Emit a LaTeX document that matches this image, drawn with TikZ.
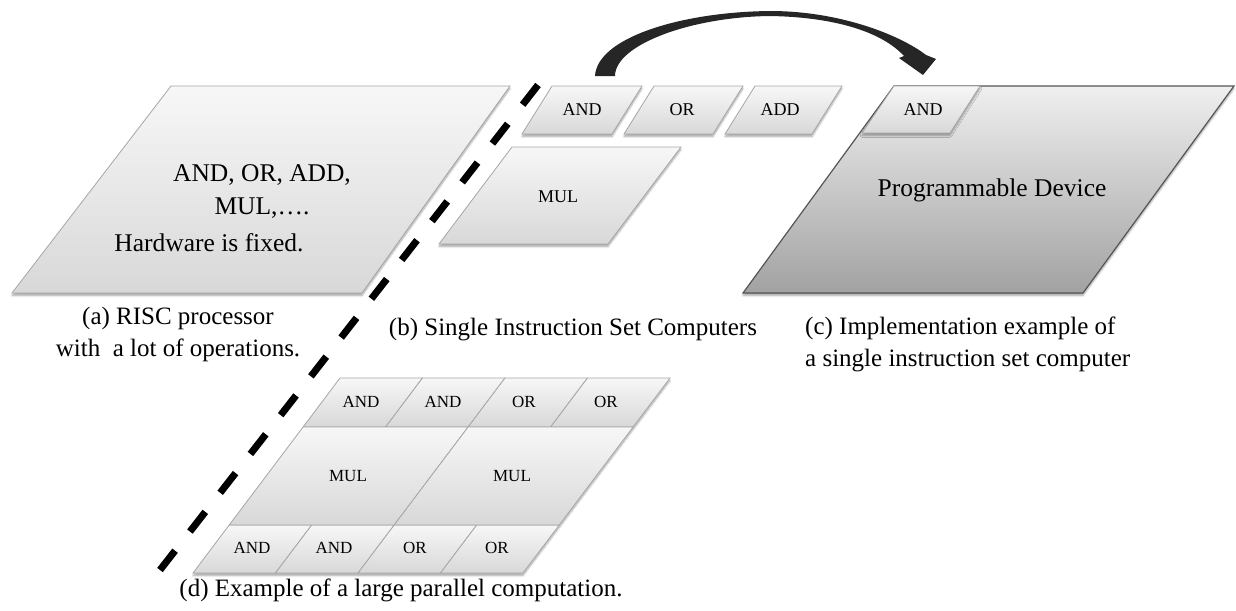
\documentclass[tikz,border=0pt]{standalone}
\usepackage{fontspec}
\setmainfont{Liberation Serif}
\usetikzlibrary{shadows.blur,calc}
\definecolor{boxtop}{HTML}{F7F7F7}
\definecolor{boxbot}{HTML}{D8D8D8}
\definecolor{boxline}{HTML}{A6A6A6}
\definecolor{devtop}{HTML}{EFEFEF}
\definecolor{devbot}{HTML}{A2A2A2}
\definecolor{devline}{HTML}{555555}
\definecolor{arrowc}{HTML}{262626}
\tikzset{
  shadowed/.style={blur shadow={shadow xshift=0pt, shadow yshift=-2.5pt, shadow opacity=35, shadow blur steps=6}},
  pbox/.style={draw=boxline, line width=0.8pt, top color=boxtop, bottom color=boxbot},
  devbox/.style={draw=devline, line width=1.2pt, top color=devtop, bottom color=devbot},
  bigtxt/.style={font=\fontsize{25.5}{30}\selectfont, inner sep=0pt},
  captxt/.style={font=\fontsize{25}{32}\selectfont, inner sep=0pt},
  smalltxt/.style={font=\fontsize{18}{20}\selectfont, inner sep=0pt},
  gridtxt/.style={font=\fontsize{17}{20}\selectfont, inner sep=0pt},
  sep/.style={line width=7pt, dash pattern=on 25pt off 24.2pt},
}
\begin{document}
\begin{tikzpicture}[x=1pt,y=-1pt]
\useasboundingbox (0,0) rectangle (1236,610);

% (a) RISC processor
\path[pbox, shadowed] (171,86) -- (510,86) -- (362,293) -- (12,293) -- cycle;
\node[bigtxt] (risc1) at (262,175) {AND, OR, ADD,};
\node[bigtxt] (risc2) at (262,208) {MUL,….};
\node[bigtxt] (risc3) at (209,243) {Hardware is fixed.};
\node[captxt, align=center] (capa) at (178,334) {(a) RISC processor\\with\ \ a lot of operations.};

% separator
\coordinate (dTop) at (538,85);
\coordinate (dBot) at (160,570);
\draw[sep] (dTop) -- (dBot);

% (b) single instruction set computers
\path[pbox, shadowed] (552,86) -- (642,86) -- (612,134) -- (522,134) -- cycle;
\path[pbox, shadowed] (654,86) -- (743,86) -- (713,134) -- (624,134) -- cycle;
\path[pbox, shadowed] (755,86) -- (842,86) -- (812,134) -- (725,134) -- cycle;
\path[pbox, shadowed] (512,147) -- (681,147) -- (608,244) -- (439,244) -- cycle;
\node[smalltxt] (andb) at (582,110) {AND};
\node[smalltxt] (orb) at (682,110) {OR};
\node[smalltxt] (addb) at (780,110) {ADD};
\node[smalltxt] (mulb) at (558,197) {MUL};
\node[captxt] (capb) at (573,330) {(b) Single Instruction Set Computers};

% (c) programmable device
\path[devbox, shadowed] (894,86) -- (1234,86) -- (1083,293) -- (743,293) -- cycle;
\path[pbox, shadowed] (894,86) -- (980,86) -- (950,133) -- (862,133) -- cycle;
\node[smalltxt] (andc) at (923,110) {AND};
\node[bigtxt] (dev) at (992,190) {Programmable Device};
\node[captxt, align=left, anchor=west] (capc) at (805,344) {(c) Implementation example of\\a single instruction set computer};

% curved arrow from (b) AND to (c) AND
\coordinate (aS) at ($(andb)+(23,-34)$);
\coordinate (aE) at ($(andc)+(0,-35)$);
\fill[arrowc] ($(aS)+(-10,0)$) .. controls ($(aS)+(-8,-38)$) and ($(aS)+(75,-64)$) .. ($(aS)+(165,-65)$)
  .. controls ($(aS)+(235,-65)$) and ($(aS)+(295,-41)$) .. ($(aE)+(3,-20)$)
  -- ($(aE)+(13,-16)$) -- (aE) -- ($(aE)+(-24,-17)$) -- ($(aE)+(-19,-19)$)
  .. controls ($(aS)+(275,-46)$) and ($(aS)+(225,-59)$) .. ($(aS)+(165,-60)$)
  .. controls ($(aS)+(85,-59)$) and ($(aS)+(10,-31)$) .. ($(aS)+(10,0)$) -- cycle;

% (d) large parallel computation
\path[fill=white, shadowed] (340,378) -- (670,378) -- (523,573) -- (193,573) -- cycle;
\foreach \i in {0,1,2,3} {
  \path[pbox] ({340+82.5*\i},378) -- ({422.5+82.5*\i},378) -- ({385.6+82.5*\i},427) -- ({303.1+82.5*\i},427) -- cycle;
  \path[pbox] ({229.2+82.5*\i},525) -- ({311.7+82.5*\i},525) -- ({275.5+82.5*\i},573) -- ({193+82.5*\i},573) -- cycle;
}
\foreach \j in {0,1} {
  \path[pbox] ({303.1+165*\j},427) -- ({468.1+165*\j},427) -- ({394.2+165*\j},525) -- ({229.2+165*\j},525) -- cycle;
}
\node[gridtxt] (t1) at (361,402) {AND};
\node[gridtxt] (t2) at (443,402) {AND};
\node[gridtxt] (t3) at (524,402) {OR};
\node[gridtxt] (t4) at (606,402) {OR};
\node[gridtxt] (m1) at (348,476) {MUL};
\node[gridtxt] (m2) at (512,476) {MUL};
\node[gridtxt] (b1) at (252,548) {AND};
\node[gridtxt] (b2) at (334,548) {AND};
\node[gridtxt] (b3) at (415,548) {OR};
\node[gridtxt] (b4) at (497,548) {OR};
\node[captxt] (capd) at (401,590) {(d) Example of a large parallel computation.};
\end{tikzpicture}
\end{document}
